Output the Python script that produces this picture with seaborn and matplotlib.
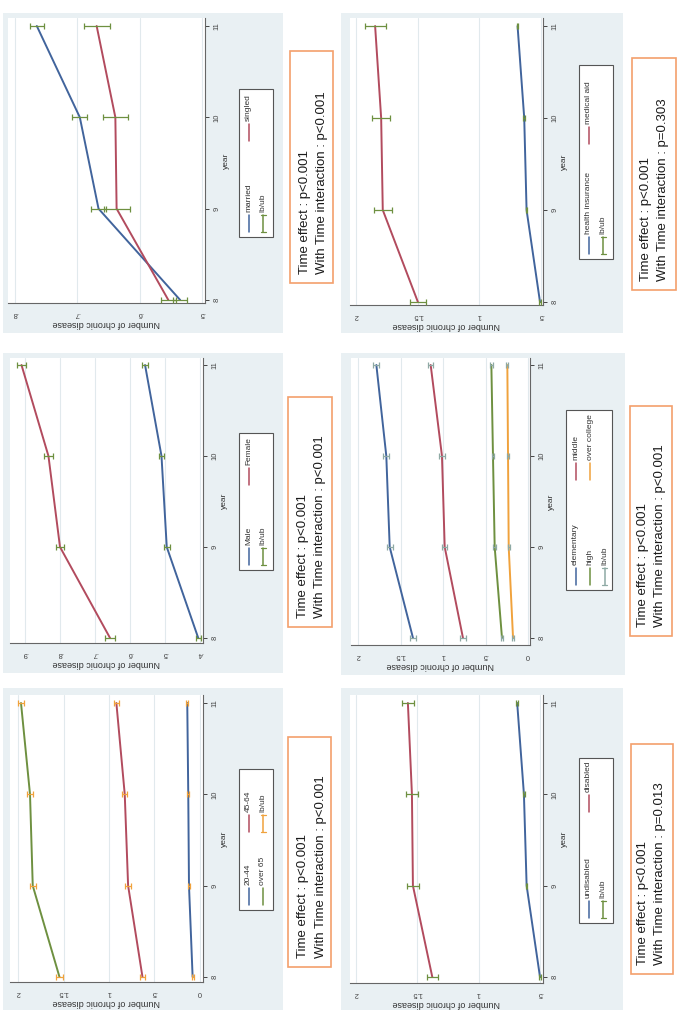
import numpy as np
import pandas as pd
import matplotlib
matplotlib.use("Agg")
import matplotlib.pyplot as plt
import seaborn as sns
from matplotlib.patches import Rectangle
from matplotlib.lines import Line2D
from matplotlib.transforms import Affine2D

# ---- data ----
years = [8, 9, 10, 11]

married = [0.535, 0.666, 0.696, 0.765]
married_err = [0.011, 0.012, 0.012, 0.011]
singled = [0.554, 0.637, 0.639, 0.669]
singled_err = [0.012, 0.021, 0.020, 0.021]

male = [0.405, 0.495, 0.510, 0.557]
male_err = [0.007, 0.008, 0.008, 0.008]
female = [0.657, 0.800, 0.833, 0.910]
female_err = [0.013, 0.012, 0.012, 0.013]

age_20_44 = [0.081, 0.121, 0.129, 0.140]
age_20_44_err = [0.010, 0.010, 0.010, 0.010]
age_45_64 = [0.632, 0.790, 0.827, 0.919]
age_45_64_err = [0.030, 0.030, 0.030, 0.030]
over_65 = [1.544, 1.838, 1.868, 1.967]
over_65_err = [0.035, 0.035, 0.035, 0.035]

health_ins = [0.508, 0.617, 0.636, 0.690]
health_ins_err = [0.006, 0.006, 0.006, 0.006]
medical_aid = [1.498, 1.783, 1.796, 1.845]
medical_aid_err = [0.068, 0.075, 0.075, 0.085]

elementary = [1.353, 1.627, 1.667, 1.784]
elementary_err = [0.040, 0.035, 0.035, 0.035]
middle = [0.765, 0.980, 1.012, 1.145]
middle_err = [0.030, 0.030, 0.030, 0.030]
high = [0.306, 0.392, 0.412, 0.431]
high_err = [0.015, 0.015, 0.015, 0.015]
college = [0.176, 0.227, 0.235, 0.243]
college_err = [0.012, 0.012, 0.012, 0.012]

undisabled = [0.500, 0.609, 0.631, 0.686]
undisabled_err = [0.006, 0.006, 0.006, 0.006]
disabled = [1.378, 1.536, 1.544, 1.577]
disabled_err = [0.045, 0.050, 0.050, 0.048]

time_p = ["p<0.001", "p<0.001", "p<0.001", "p<0.001", "p<0.001", "p<0.001"]
inter_p = ["p<0.001", "p<0.001", "p<0.001", "p=0.303", "p<0.001", "p=0.013"]

# stata s2color-ish
BLUE = "#41649c"
RED = "#b24b5e"
GREEN = "#6e9040"
ORANGE = "#f0a23c"
TEAL = "#8ea9a4"
BG = "#e9f0f3"
GRID = "#e1e9ed"
BOX = "#f3a06c"

sns.set_style("white")
plt.rcParams["font.family"] = ["Liberation Sans", "DejaVu Sans"]

W, H = 678, 1017
fig = plt.figure(figsize=(W / 100, H / 100), dpi=100)
fig.patch.set_facecolor("white")
# pixel coords, origin top-left
PX = Affine2D().scale(1 / W, -1 / H).translate(0, 1) + fig.transFigure

# layout of each (rotated) panel, in pixels
panels = [
    dict(series=[("married", married, married_err), ("singled", singled, singled_err)],
         colors=[BLUE, RED], ci=GREEN, vticks=[0.5, 0.6, 0.7, 0.8],
         bg=(3, 13, 283, 333), plot=(8, 18, 205, 303),
         vref=((15, 0.8), (202, 0.5)), yref=((26, 11), (300, 8)),
         leg=(239, 89, 273, 237), coff=(5, 96), txt=(290, 51, 333, 283), tx=(305, 322)),
    dict(series=[("Male", male, male_err), ("Female", female, female_err)],
         colors=[BLUE, RED], ci=GREEN, vticks=[0.4, 0.5, 0.6, 0.7, 0.8, 0.9],
         bg=(3, 353, 283, 673), plot=(10, 358, 203, 643),
         vref=((25, 0.9), (200, 0.4)), yref=((365, 11), (638, 8)),
         leg=(239, 433, 273, 570), coff=(5, 85), txt=(288, 397, 332, 627), tx=(303, 320)),
    dict(series=[("20-44", age_20_44, age_20_44_err), ("45-64", age_45_64, age_45_64_err),
                 ("over 65", over_65, over_65_err)],
         colors=[BLUE, RED, GREEN], ci=ORANGE, vticks=[0, 0.5, 1, 1.5, 2],
         bg=(3, 688, 283, 1010), plot=(10, 695, 203, 982),
         vref=((18, 2), (200, 0)), yref=((703, 11), (977, 8)),
         leg=(239, 769, 273, 910), coff=(5, 78), txt=(288, 737, 331, 967), tx=(303, 321)),
    dict(series=[("health insurance", health_ins, health_ins_err),
                 ("medical aid", medical_aid, medical_aid_err)],
         colors=[BLUE, RED], ci=GREEN, vticks=[0.5, 1, 1.5, 2],
         bg=(341, 13, 623, 333), plot=(350, 18, 543, 305),
         vref=((356, 2), (541, 0.5)), yref=((26, 11), (302, 8)),
         leg=(579, 65, 613, 259), coff=(5, 115), txt=(632, 58, 676, 290), tx=(646, 663)),
    dict(series=[("elementary", elementary, elementary_err), ("middle", middle, middle_err),
                 ("high", high, high_err), ("over college", college, college_err)],
         colors=[BLUE, RED, GREEN, ORANGE], ci=TEAL, vticks=[0, 0.5, 1, 1.5, 2],
         bg=(341, 353, 625, 675), plot=(351, 358, 530, 645),
         vref=((358, 2), (528, 0)), yref=((365, 11), (638, 8)),
         leg=(566, 410, 612, 590), coff=(5, 110), txt=(630, 406, 672, 636), tx=(643, 660)),
    dict(series=[("undisabled", undisabled, undisabled_err), ("disabled", disabled, disabled_err)],
         colors=[BLUE, RED], ci=GREEN, vticks=[0.5, 1, 1.5, 2],
         bg=(341, 688, 623, 1010), plot=(350, 695, 543, 983),
         vref=((356, 2), (540, 0.5)), yref=((703, 11), (977, 8)),
         leg=(579, 758, 613, 923), coff=(5, 111), txt=(631, 744, 673, 974), tx=(643, 660)),
]


def span(e0, e1, ref):
    (pa, va), (pb, vb) = ref
    k = (vb - va) / (pb - pa)
    return va + (e0 - pa) * k, va + (e1 - pa) * k


def stata_fmt(v):
    if float(v).is_integer():
        return str(int(v))
    s = f"{v:g}"
    return s[1:] if s.startswith("0.") else s


def draw_panel(p, tp, ip):
    x0, y0, x1, y1 = p["bg"]
    fig.add_artist(Rectangle((x0, y0), x1 - x0, y1 - y0, transform=PX,
                             fc=BG, ec="none", zorder=-5))

    px0, py0, px1, py1 = p["plot"]
    ax = fig.add_axes([px0 / W, 1 - py1 / H, (px1 - px0) / W, (py1 - py0) / H])
    ax.set_facecolor("white")

    rows = []
    for name, vals, errs in p["series"]:
        for yr, v, e in zip(years, vals, errs):
            rows.append(dict(group=name, year=yr, value=v, err=e))
    df = pd.DataFrame(rows)
    names = [s[0] for s in p["series"]]

    sns.lineplot(data=df, x="value", y="year", hue="group", hue_order=names,
                 palette=p["colors"], orient="y", estimator=None, sort=True,
                 legend=False, linewidth=1.4, ax=ax)
    ax.errorbar(df["value"], df["year"], xerr=df["err"], fmt="none",
                ecolor=p["ci"], elinewidth=0.9, capsize=2.2, capthick=0.9, zorder=3)

    ax.set_xlim(span(px0, px1, p["vref"]))
    ytop, ybot = span(py0, py1, p["yref"])
    ax.set_ylim(ybot, ytop)

    ax.set_xticks(p["vticks"])
    ax.set_xticklabels([stata_fmt(v) for v in p["vticks"]], rotation=180)
    ax.yaxis.tick_right()
    ax.yaxis.set_label_position("right")
    ax.set_yticks(years)
    ax.set_yticklabels([str(y) for y in years], rotation=90, va="center")
    ax.tick_params(axis="x", length=3, width=0.7, pad=2, labelsize=5.5, colors="#444444")
    ax.tick_params(axis="y", length=3, width=0.7, pad=3, labelsize=5.5, colors="#444444")
    ax.set_xlabel("Number of chronic disease", rotation=180, fontsize=6.5,
                  labelpad=1.5, color="#333333")
    ax.set_ylabel("year", rotation=90, fontsize=6, labelpad=2, color="#333333")
    ax.grid(axis="x", color=GRID, lw=0.8)
    ax.grid(axis="y", visible=False)
    for s in ("top", "left"):
        ax.spines[s].set_visible(False)
    for s in ("bottom", "right"):
        ax.spines[s].set_color("#666666")
        ax.spines[s].set_linewidth(0.8)

    # legend, drawn by hand since it is rotated
    lx0, ly0, lx1, ly1 = p["leg"]
    fig.add_artist(Rectangle((lx0, ly0), lx1 - lx0, ly1 - ly0, transform=PX,
                             fc="white", ec="#555555", lw=0.8, zorder=2))
    entries = [(n, c, "line") for n, c in zip(names, p["colors"])] + [("lb/ub", p["ci"], "cap")]
    for i, (lab, col, kind) in enumerate(entries):
        r, c = divmod(i, 2)
        x = lx0 + 9.5 + 14.5 * r
        yb = ly1 - p["coff"][c]
        yt = yb - 17
        fig.add_artist(Line2D([x, x], [yb, yt], transform=PX, color=col, lw=1.1, zorder=3))
        if kind == "cap":
            for yy in (yb, yt):
                fig.add_artist(Line2D([x - 2.5, x + 2.5], [yy, yy], transform=PX,
                                      color=col, lw=0.9, zorder=3))
        fig.text(x, yt - 3, lab, transform=PX, rotation=90, ha="center", va="bottom",
                 fontsize=6, color="#333333", zorder=3)

    # stats box
    tx0, ty0, tx1, ty1 = p["txt"]
    fig.add_artist(Rectangle((tx0, ty0), tx1 - tx0, ty1 - ty0, transform=PX,
                             fc="white", ec=BOX, lw=1.2, zorder=2))
    lines = [f"Time effect : {tp}", f"With Time interaction : {ip}"]
    for xx, s in zip(p["tx"], lines):
        fig.text(xx, ty1 - 9, s, transform=PX, rotation=90, ha="center", va="bottom",
                 fontsize=9.5, color="#1a1a1a", zorder=3)


for p, tp, ip in zip(panels, time_p, inter_p):
    draw_panel(p, tp, ip)

fig.savefig("out.png", dpi=100)
